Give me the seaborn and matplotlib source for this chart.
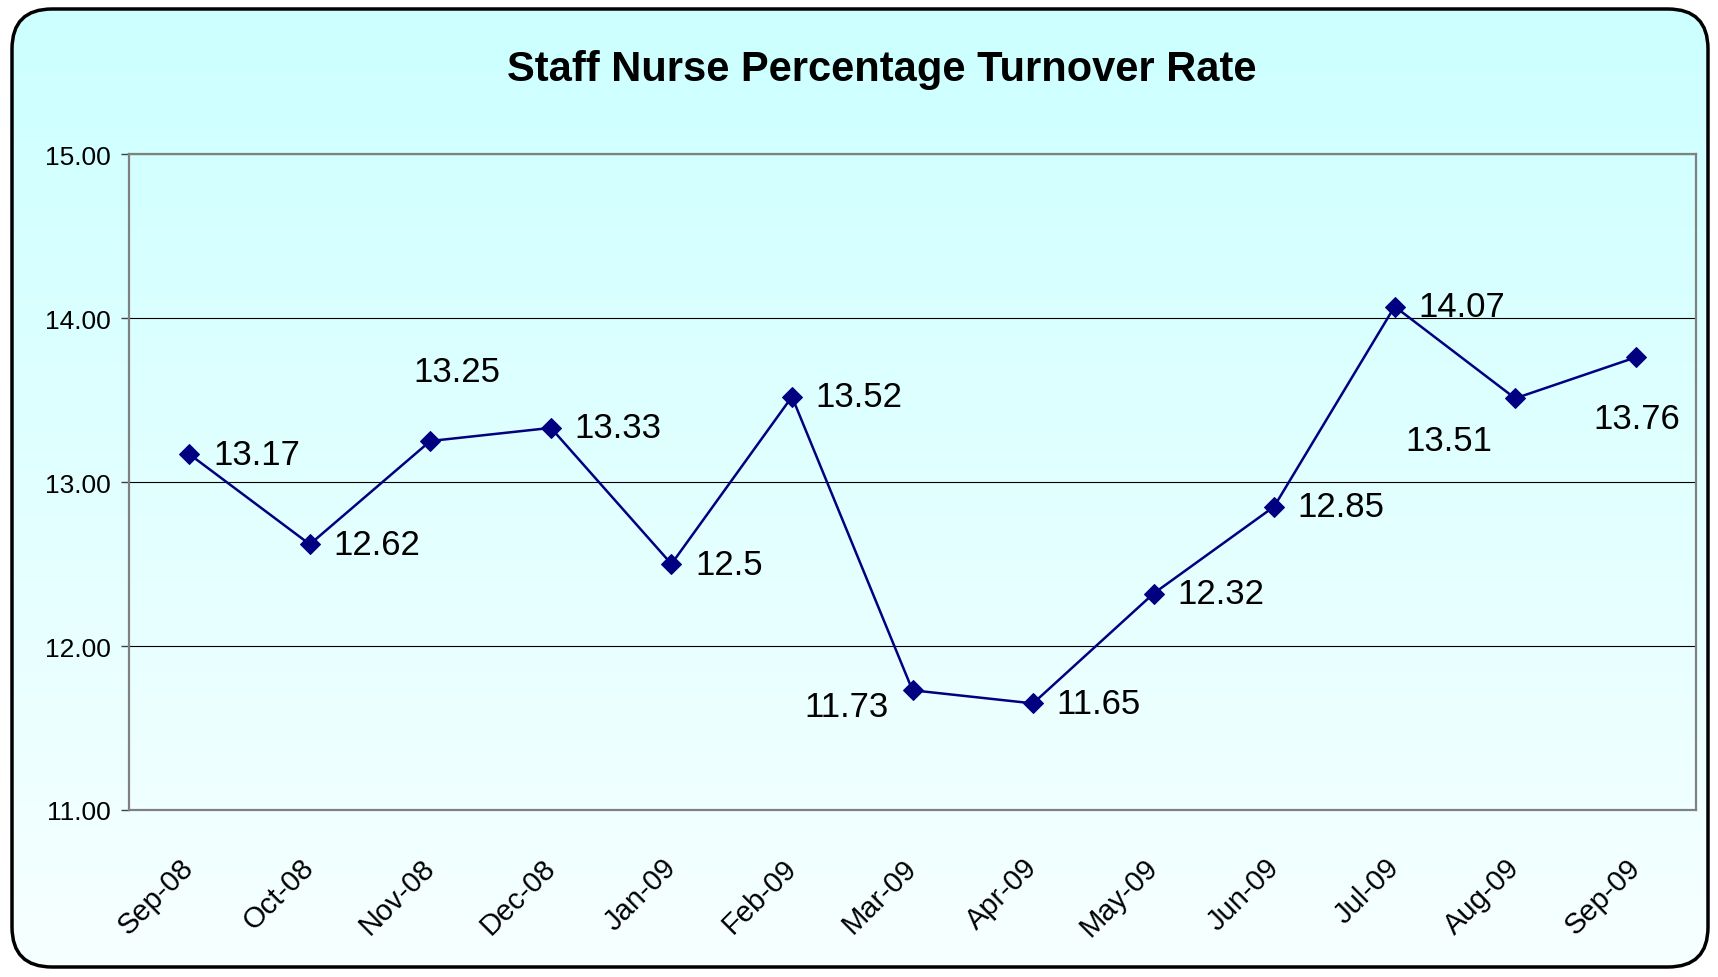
import numpy as np
import pandas as pd
import matplotlib
matplotlib.use("Agg")
import matplotlib.pyplot as plt
import seaborn as sns
from matplotlib.patches import FancyBboxPatch
from matplotlib.ticker import FixedLocator, FormatStrFormatter

# data
months = ["Sep-08", "Oct-08", "Nov-08", "Dec-08", "Jan-09", "Feb-09", "Mar-09",
          "Apr-09", "May-09", "Jun-09", "Jul-09", "Aug-09", "Sep-09"]
turnover = [13.17, 12.62, 13.25, 13.33, 12.5, 13.52, 11.73,
            11.65, 12.32, 12.85, 14.07, 13.51, 13.76]
value_text = ["13.17", "12.62", "13.25", "13.33", "12.5", "13.52", "11.73",
              "11.65", "12.32", "12.85", "14.07", "13.51", "13.76"]
y_ticks = [11, 12, 13, 14, 15]

df = pd.DataFrame({"month": months, "rate": turnover})

sns.set_style("white")
plt.rcParams["font.family"] = ["Liberation Sans", "DejaVu Sans"]
plt.rcParams["text.color"] = "black"

fig = plt.figure(figsize=(17.18, 9.78), dpi=100)
fig.patch.set_facecolor("white")

# background box with cyan -> white gradient
bg = fig.add_axes([0, 0, 1, 1], zorder=0)
bg.set_xlim(0, 1718)
bg.set_ylim(978, 0)
bg.axis("off")
grad = np.linspace(0, 1, 256).reshape(-1, 1)
top = np.array([0.80, 1.0, 1.0])
bottom = np.array([0.97, 1.0, 1.0])
img = top + (bottom - top) * grad[:, :, None]
im = bg.imshow(img, extent=[8, 1712, 972, 6], aspect="auto")
box = FancyBboxPatch((12, 10), 1696, 958, boxstyle="round,pad=0,rounding_size=40",
                     facecolor="none", edgecolor="black", linewidth=2.5)
bg.add_patch(box)
im.set_clip_path(box)

ax = fig.add_axes([129 / 1718, 1 - 811 / 978, (1696 - 129) / 1718, (811 - 155) / 978], zorder=1)
ax.set_facecolor("none")

sns.lineplot(data=df, x="month", y="rate", sort=False, ax=ax, color="#000080",
             linewidth=1.8, marker="D", markersize=10, markeredgecolor="#000080")

ax.set_xlim(-0.5, len(months) - 0.5)
ax.set_ylim(11, 15)
ax.set_yticks(y_ticks)
ax.yaxis.set_major_formatter(FormatStrFormatter("%.2f"))
ax.yaxis.grid(True, color="black", linewidth=0.8)
ax.set_axisbelow(True)

ax.set_xticks(range(len(months)))
ax.set_xticklabels(months, rotation=45, ha="right", va="center", rotation_mode="anchor")
ax.xaxis.set_minor_locator(FixedLocator(np.arange(-0.5, len(months), 1)))
ax.tick_params(axis="x", which="major", length=0, pad=38, labelsize=21, labelcolor="black")
ax.tick_params(axis="x", which="minor", length=6, width=1, color="#404040", direction="out")
ax.tick_params(axis="y", length=6, width=1, color="#404040", pad=7, labelsize=19,
               labelcolor="black", left=True)
ax.set_xlabel("")
ax.set_ylabel("")

for s in ax.spines.values():
    s.set_color("#808080")
    s.set_linewidth(1.6)

# data labels, placed like the original
offsets = [(17, 0, "left"), (17, 0, "left"), (19, 50, "center"), (17, 0, "left"),
           (17, 0, "left"), (17, 0, "left"), (-17, -12, "right"), (17, 0, "left"),
           (17, 0, "left"), (17, 0, "left"), (17, 0, "left"), (-48, -30, "center"),
           (1, -44, "center")]
for i, (v, t) in enumerate(zip(turnover, value_text)):
    dx, dy, ha = offsets[i]
    ax.annotate(t, (i, v), xytext=(dx, dy), textcoords="offset points",
                ha=ha, va="center", fontsize=25, color="black")

fig.text(882 / 1718, 1 - 70 / 978, "Staff Nurse Percentage Turnover Rate",
         ha="center", va="center", fontsize=30, fontweight="bold", color="black")

fig.savefig("out.png", dpi=100)
